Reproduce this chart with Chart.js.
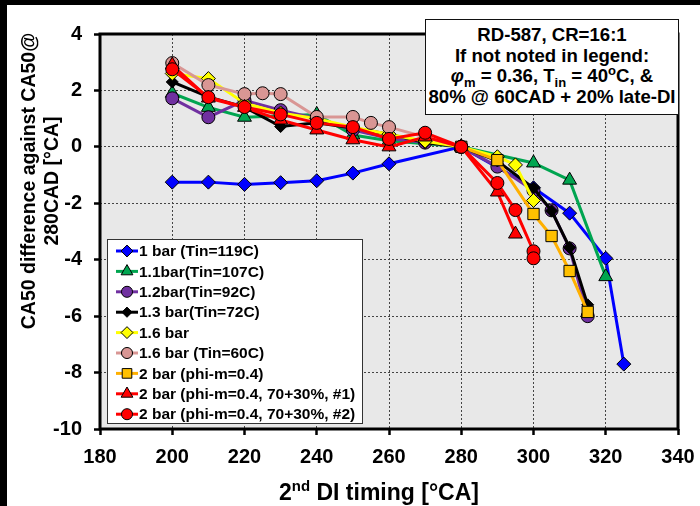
<!DOCTYPE html>
<html>
<head>
<meta charset="utf-8">
<script src="https://cdn.jsdelivr.net/npm/chart.js"></script>
<style>
body{margin:0;background:#000;width:700px;height:506px;overflow:hidden;position:relative;font-family:"Liberation Sans",Arial,sans-serif;}
#paper{position:absolute;left:7px;top:5px;width:693px;height:501px;background:#fff;}
#c{position:absolute;left:0;top:0;}
#note{position:absolute;left:425px;top:19px;width:252px;height:89px;border:1.5px solid #111;background:#fff;
 font-weight:bold;font-size:18.6px;line-height:20.7px;text-align:center;padding-top:5px;box-sizing:content-box;white-space:nowrap;}
#note sub,#note sup{font-size:70%;line-height:0;}
#xt{position:absolute;left:229px;width:300px;top:479px;text-align:center;font-weight:bold;font-size:23px;line-height:26px;}
#xt sup{font-size:65%;line-height:0;}
#yt{position:absolute;left:-130px;top:158px;width:340px;height:46px;transform:rotate(-90deg);text-align:center;
 font-weight:bold;font-size:19.5px;line-height:23px;}
</style>
</head>
<body>
<div id="paper"></div>
<canvas id="c" width="700" height="506"></canvas>
<div id="note">RD-587, CR=16:1<br>If not noted in legend:<br><i>φ</i><sub>m</sub> = 0.36, T<sub>in</sub> = 40<sup>o</sup>C, &amp;<br>80% @ 60CAD + 20% late-DI</div>
<div id="xt">2<sup>nd</sup> DI timing [°CA]</div>
<div id="yt">CA50 difference against CA50@<br>280CAD [°CA]</div>
<script>
const xTicks=[180,200,220,240,260,280,300,320,340];
const yTicks=[-10,-8,-6,-4,-2,0,2,4];

const labels=["1 bar (Tin=119C)","1.1bar(Tin=107C)","1.2bar(Tin=92C)","1.3 bar(Tin=72C)","1.6 bar","1.6 bar (Tin=60C)","2 bar (phi-m=0.4)","2 bar (phi-m=0.4, 70+30%, #1)","2 bar (phi-m=0.4, 70+30%, #2)"];

const bar1X=[200,210,220,230,240,250,260,280,300,310,320,325];
const bar1Y=[-1.25,-1.25,-1.33,-1.27,-1.2,-0.93,-0.6,0,-1.45,-2.35,-3.95,-7.7];
const bar11X=[200,210,220,240,250,260,280,300,310,320];
const bar11Y=[1.9,1.4,1.05,1.15,0.42,0.22,0,-0.57,-1.18,-4.6];
const bar12X=[200,210,220,230,240,250,260,270,280,290,300,305,310,315];
const bar12Y=[1.72,1.05,1.65,1.3,1.0,0.6,0.3,0.15,0,-0.7,-1.55,-2.25,-3.6,-6.0];
const bar13X=[200,210,220,230,240,250,260,270,280,290,300,305,310,315];
const bar13Y=[2.3,1.77,1.41,0.72,0.85,0.67,0.45,0.15,0,-0.5,-1.46,-2.27,-3.57,-5.6];
const bar16X=[200,210,220,230,240,250,260,270,280,290,295,300];
const bar16Y=[2.6,2.42,1.55,1.2,1.0,0.7,0.45,0.2,0,-0.35,-0.64,-1.9];
const bar16tX=[200,210,220,225,230,240,250,255,260,280];
const bar16tY=[2.97,2.19,1.87,1.9,1.87,1.06,1.06,0.85,0.7,0];
const bar2X=[280,290,300,305,310,315];
const bar2Y=[0,-0.47,-2.38,-3.16,-4.4,-5.85];
const bar2aX=[200,210,220,230,240,250,260,270,280,290,295];
const bar2aY=[2.9,1.73,1.4,0.95,0.6,0.25,0.0,0.35,0,-1.6,-3.09];
const bar2bX=[200,210,220,230,240,250,260,270,280,290,295,300,300];
const bar2bY=[2.75,1.76,1.41,1.15,0.85,0.7,0.28,0.5,0,-1.28,-2.24,-3.7,-3.95];

const xs=[bar1X,bar11X,bar12X,bar13X,bar16X,bar16tX,bar2X,bar2aX,bar2bX];
const ys=[bar1Y,bar11Y,bar12Y,bar13Y,bar16Y,bar16tY,bar2Y,bar2aY,bar2bY];
const lineCol=["#0000ff","#00a550","#7030a0","#000000","#ffff00","#d99694","#ffb000","#ff0000","#ff0000"];
const fillCol=["#0000ff","#00a550","#7030a0","#000000","#ffff00","#d99694","#ffc000","#ff0000","#ff0000"];
const shapes=["rectRot","triangle","circle","rectRot","rectRot","circle","rect","triangle","circle"];
const sizes=[7,8,6.5,6,7,6.5,8,8,6.5];

const FONT='"Liberation Sans", Arial, sans-serif';

const datasets=labels.map((l,i)=>({
    label:l,
    data:xs[i].map((x,j)=>({x:x,y:ys[i][j]})),
    borderColor:lineCol[i],
    backgroundColor:fillCol[i],
    borderWidth:3,
    pointStyle:shapes[i],
    pointRadius:sizes[i],
    pointBorderColor:"#000",
    pointBorderWidth:1,
    pointBackgroundColor:fillCol[i],
    tension:0,
    order:8-i
}));

function marker(ctx,shape,r,x,y){
    ctx.beginPath();
    if(shape==="circle"){ctx.arc(x,y,r,0,Math.PI*2);}
    else if(shape==="rectRot"){ctx.moveTo(x,y-r);ctx.lineTo(x+r,y);ctx.lineTo(x,y+r);ctx.lineTo(x-r,y);ctx.closePath();}
    else if(shape==="rect"){let s=r*Math.SQRT1_2;ctx.rect(x-s,y-s,2*s,2*s);}
    else if(shape==="triangle"){
        for(let k=0;k<3;k++){let a=k*2*Math.PI/3;let px=x+Math.sin(a)*r,py=y-Math.cos(a)*r;k?ctx.lineTo(px,py):ctx.moveTo(px,py);}
        ctx.closePath();
    }
    ctx.fill();ctx.stroke();
}

const frame={
    id:"frame",
    beforeDraw(chart){
        const a=chart.chartArea,ctx=chart.ctx;
        ctx.save();ctx.fillStyle="#e8e8e8";ctx.fillRect(a.left,a.top,a.right-a.left,a.bottom-a.top);ctx.restore();
    },
    afterDraw(chart){
        const a=chart.chartArea,ctx=chart.ctx;
        ctx.save();
        ctx.strokeStyle="#000";ctx.lineWidth=3;
        ctx.strokeRect(a.left,a.top,a.right-a.left,a.bottom-a.top);
        // legend
        ctx.fillStyle="#fff";ctx.fillRect(107,239,255,184);
        ctx.lineWidth=1;ctx.strokeStyle="#333";ctx.strokeRect(107.5,239.5,255,184);
        ctx.font="bold 15.5px "+FONT;ctx.textBaseline="middle";
        labels.forEach((l,i)=>{
            let y=251+i*20.4;
            ctx.strokeStyle=lineCol[i];ctx.lineWidth=3;
            ctx.beginPath();ctx.moveTo(116,y);ctx.lineTo(138,y);ctx.stroke();
            ctx.fillStyle=fillCol[i];ctx.strokeStyle="#000";ctx.lineWidth=1;
            marker(ctx,shapes[i],sizes[i]*0.85,127,y);
            ctx.fillStyle="#000";ctx.fillText(l,139,y+1);
        });
        ctx.restore();
    }
};

new Chart(document.getElementById("c"),{
    type:"line",
    data:{datasets:datasets},
    options:{
        responsive:false,
        animation:false,
        devicePixelRatio:1,
        layout:{padding:{left:0,top:34,right:22,bottom:0}},
        plugins:{legend:{display:false},tooltip:{enabled:false}},
        scales:{
            x:{
                type:"linear",min:180,max:340,
                afterBuildTicks:(s)=>{s.ticks=xTicks.map(v=>({value:v}));},
                afterFit:(s)=>{s.height=77;s.paddingRight=0;s.paddingLeft=0;},
                ticks:{color:"#000",font:{family:FONT,size:20,weight:"bold"},padding:10,maxRotation:0},
                grid:{color:"#444",lineWidth:1,tickColor:"#000",tickWidth:2.5,tickLength:6,tickBorderDash:[]},
                border:{display:false,dash:[2,2]}
            },
            y:{
                type:"linear",min:-10,max:4,
                afterBuildTicks:(s)=>{s.ticks=yTicks.map(v=>({value:v}));},
                afterFit:(s)=>{s.width=100;s.paddingTop=0;s.paddingBottom=0;},
                ticks:{color:"#000",font:{family:FONT,size:20,weight:"bold"},padding:12},
                grid:{color:"#444",lineWidth:1,tickColor:"#000",tickWidth:2.5,tickLength:6,tickBorderDash:[]},
                border:{display:false,dash:[2,2]}
            }
        }
    },
    plugins:[frame]
});
</script>
</body>
</html>
